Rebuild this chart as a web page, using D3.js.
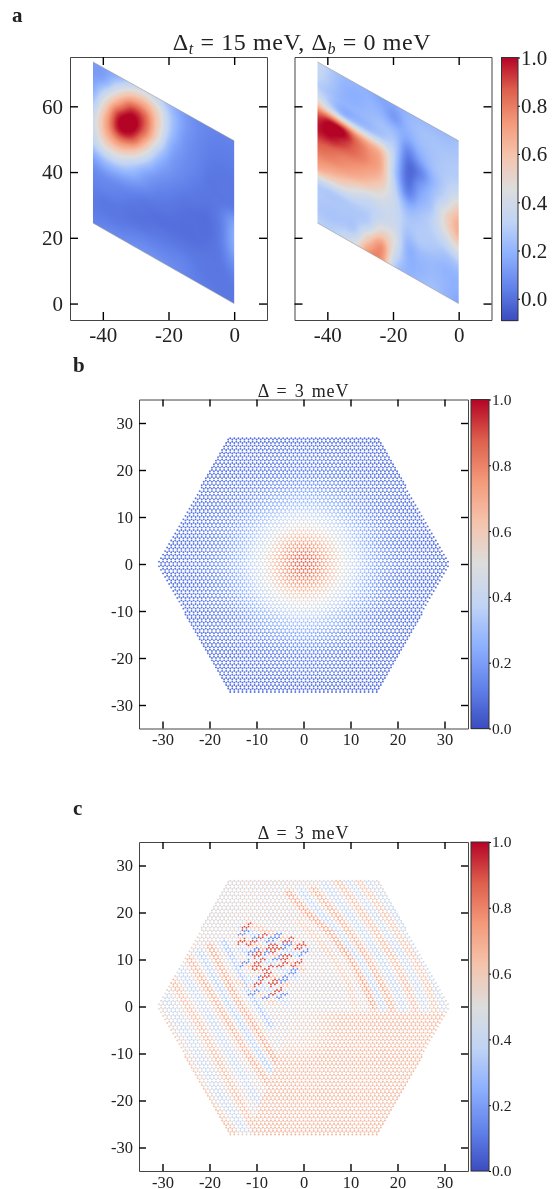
<!DOCTYPE html>
<html><head><meta charset="utf-8">
<script src="https://cdn.jsdelivr.net/npm/d3@7/dist/d3.min.js"></script>
<style>
html,body{margin:0;padding:0;background:#fff;}
#wrap{position:relative;width:553px;height:1189px;overflow:hidden;}
canvas{position:absolute;left:0;top:0;}
svg{position:absolute;left:0;top:0;}
text{font-family:"Liberation Serif","DejaVu Serif",serif;fill:#222;}
</style></head><body><div id="wrap"><canvas id="heat" width="553" height="1189"></canvas><svg id="s" width="553" height="1189"></svg></div>
<script>
// ---------- data ----------
const coolwarmStops=[0,.125,.25,.375,.5,.625,.75,.875,1];
const coolwarmColors=["#3b4cc0","#6282ea","#8db0fe","#c0d4f5","#dddddd","#f5c4ad","#f49a7b","#de604d","#b40426"];
const ticksA_X=[-40,-20,0], ticksA_Y=[0,20,40,60];
const ticksHex=[-30,-20,-10,0,10,20,30];
const ticksBarA=[0,.2,.4,.6,.8,1], ticksBarHex=[0,.2,.4,.6,.8,1];
// parallelogram corners of panel a (x,y)
const cellCorners=[[0,0],[0,49.5],[-43,73.5],[-43,24.5]];
// mesh values: rows from the top edge of the cell to the bottom edge, columns from x=-43 to x=0
const meshLeft=[
[.12,.13,.18,.31,.39,.34,.22,.13,.08,.06,.05,.05],
[.12,.18,.40,.60,.65,.52,.28,.14,.08,.05,.04,.04],
[.17,.39,.68,.92,.86,.57,.27,.12,.07,.04,.03,.03],
[.27,.58,.95,1.05,.85,.50,.20,.10,.06,.03,.02,.02],
[.38,.68,.97,.93,.64,.32,.14,.08,.05,.02,.02,.02],
[.39,.62,.72,.61,.38,.18,.10,.06,.03,.02,.02,.03],
[.33,.44,.44,.32,.18,.10,.06,.03,.02,.01,.04,.13],
[.17,.22,.21,.16,.10,.05,.03,.01,.00,.00,.04,.17],
[.08,.09,.08,.06,.03,.02,.01,.00,.00,.00,.04,.15],
[.05,.05,.04,.02,.01,.00,.00,.00,.00,.01,.03,.09],
[.03,.02,.02,.01,.01,.02,.02,.02,.02,.02,.02,.04],
[.03,.03,.03,.04,.05,.05,.05,.05,.03,.02,.02,.02],
[.05,.06,.07,.08,.09,.09,.08,.06,.04,.03,.02,.02]];
const meshRight=[
[.36,.28,.22,.20,.18,.15,.16,.20,.22,.22,.22,.24],
[.34,.27,.20,.18,.20,.18,.12,.20,.24,.25,.25,.26],
[.30,.25,.20,.20,.22,.24,.22,.16,.22,.25,.27,.28],
[.50,.36,.24,.24,.25,.28,.28,.06,.15,.24,.28,.30],
[.88,.98,.96,.78,.68,.60,.30,.00,.05,.20,.30,.38],
[.98,1.0,.93,.84,.76,.66,.28,.00,.12,.24,.36,.55],
[.88,.85,.80,.76,.70,.60,.32,.06,.18,.28,.50,.66],
[.78,.76,.72,.66,.58,.48,.36,.20,.25,.32,.48,.64],
[.66,.60,.54,.45,.38,.38,.36,.27,.28,.30,.36,.46],
[.32,.30,.30,.30,.30,.36,.38,.25,.28,.27,.25,.28],
[.28,.27,.27,.27,.32,.52,.45,.20,.22,.22,.20,.20],
[.27,.26,.27,.30,.56,.74,.40,.20,.20,.22,.20,.18],
[.30,.30,.35,.46,.74,.74,.30,.20,.22,.24,.20,.15]];
// panel b: value against distance from the centre
const profileR=[0,2,4,6,8,10,12,14,17,20,25,32];
const profileV=[.88,.84,.75,.64,.52,.42,.33,.26,.18,.13,.10,.08];
// panel c: hexagon outline of both lattices
const hexOutline=[[31.2,0],[15.7,27.2],[-15.7,27.2],[-31.2,0],[-15.7,-27.4],[15.7,-27.4]];
// panel c: smooth warm area, and tones for the two sublattices
const warmArea=[[-1.5,-1],[33,-1],[17,-29],[-11,-29],[-10.7,-24]];
const warmTones=[.67,.6], paleTones=[.56,.45];
// panel c: the warm area fades out towards the middle of the hexagon
const warmFadeCentre=[-3,-2], warmFadeR=[0,5,11], warmFadeK=[.1,.35,1];
// panel c: stripes seen in the picture (polyline, then its tone and half-width)
const stripes=[
[[[-3.2,24.2],[.7,20],[5.7,15.7],[9.6,10.7],[12.8,5],[14.9,0]],.74,1.2],
[[[2.1,24.9],[7.1,19.3],[11.4,13.6],[14.9,7.9],[17.8,2.2],[18.8,-.5]],.7,1.2],
[[[7.1,27],[11.4,21.4],[15.6,15.7],[19.2,10],[22,4.3],[23.8,-.5]],.66,1.2],
[[[11.4,27],[15.6,22.1],[19.9,15.7],[23.5,10.7],[26.3,5],[28,-.5]],.63,1.2],
[[[-.5,24.5],[3.9,19.6],[8.5,14.6],[12.2,9.3],[15.3,3.6],[16.8,-.3]],.36,1.1],
[[[4.6,26],[9.2,20.3],[13.5,14.6],[17,9],[19.9,3.2],[21.3,-.5]],.38,1.1],
[[[9.2,27],[13.5,21.7],[17.7,15.7],[21.3,10.3],[24.1,4.6],[25.9,-.5]],.4,1.1],
[[[13.5,27],[18,21.5],[22.5,15],[26,9],[28.5,3],[29.5,-.3]],.42,1.1],
[[[-1,18],[3,14.5],[6.5,10],[9.5,5],[11,0]],.62,1],
[[[-28.1,5.8],[-22,-4.2],[-14.2,-19.1],[-10.7,-25.5]],.66,1.2],
[[[-24.2,10],[-18.5,.8],[-12.1,-9.9],[-7.1,-17]],.7,1.2],
[[[-19.9,12.9],[-14.2,1.5],[-9.2,-6.3],[-5.7,-12]],.72,1.2],
[[[-30.6,-2],[-25.6,-10.6],[-20.6,-19.8],[-14.9,-26.9]],.65,1.2],
[[[-26.2,8],[-20.2,-1.7],[-13.2,-14.5],[-9,-21.2]],.38,1.1],
[[[-22,11.5],[-16.3,1.1],[-10.7,-8],[-6.4,-14.5]],.34,1.1],
[[[-29.4,2],[-23.8,-7.4],[-17.4,-19.5],[-12.8,-26]],.4,1.1],
[[[-17,14],[-11.5,3],[-7,-4]],.3,1],
[[[-12.1,17.8],[-6.4,15.3],[-.7,12.8]],.66,1],
[[[-13.5,16.8],[-7.1,13.6],[-.7,10.7]],.34,.9],
[[[-13.5,14.3],[-7.8,11.8],[0,7.9]],.68,.9],
[[[-13.5,12.2],[-7.1,9.3],[-1.4,6.1]],.34,.9],
[[[-13.2,9.4],[-7.5,6.8],[-3.6,4.7]],.68,.9],
[[[-13.5,6.8],[-8.5,4],[-3.6,.8]],.36,.9],
[[[-14.2,5.4],[-10,3.3],[-6.4,.8]],.64,.8]];
// panel c: strongest short dashes in the upper-left cluster (centres)
const hotDashes=[[-12.1,17],[-11.1,13.5],[-13.2,13.8],[-10,8.5],[-9.3,9.6],[-6.8,12.8],[-5.8,12.1],[-8.6,14.9],[-3.6,10.6],[-10,11],[-7.5,8.2],[-4.7,8.9],[-7.8,6.8],[-9.6,5],[-5.7,3.3],[-6.4,5],[-1.4,9.3],[-.7,12.9],[-3.2,14.3]];
const coldDashes=[[-12.8,15.6],[-10.4,14.5],[-6.8,14.5],[-7.5,11.7],[-10.7,11.7],[-12.5,9.2],[-5.8,14.9],[-3.6,13.1],[-5.4,10.3],[-10.7,2.9],[-4.6,2.2],[-7.5,2.2],[-8.5,6.3],[-4.3,5.8],[-2.1,7.5],[0,11.4]];
const hotDashTone=.9, coldDashTone=.14;
const latticeConstant=.866;
// ---------- drawing ----------
const color=d3.scaleLinear().domain(coolwarmStops).range(coolwarmColors).interpolate(d3.interpolateRgb).clamp(true);
const svg=d3.select("#s"), ctx=document.getElementById("heat").getContext("2d");

function axes(g,x,y,xt,yt,len,fs,showY,padX,padY){
  const [x0,x1]=x.range(),[y1,y0]=y.range();
  const fmt=d=>String(d);
  const mk=(sel,ax,tr)=>{const a=sel.append("g").attr("transform",tr).call(ax);
    a.select(".domain").attr("stroke","#444").attr("stroke-width",1);
    a.selectAll(".tick line").attr("stroke","#000").attr("stroke-width",1.4);
    a.selectAll("text").attr("font-size",fs).attr("fill","#222").style("font-family",'"Liberation Serif",serif');
    return a;};
  mk(g,d3.axisBottom(x).tickValues(xt).tickFormat(fmt).tickSizeInner(-len).tickSizeOuter(0).tickPadding(padX),`translate(0,${y1})`);
  mk(g,d3.axisTop(x).tickValues(xt).tickFormat("").tickSizeInner(-len).tickSizeOuter(0),`translate(0,${y0})`);
  mk(g,d3.axisLeft(y).tickValues(yt).tickFormat(showY?fmt:"").tickSizeInner(-len).tickSizeOuter(0).tickPadding(padY),`translate(${x0},0)`);
  mk(g,d3.axisRight(y).tickValues(yt).tickFormat("").tickSizeInner(-len).tickSizeOuter(0),`translate(${x1},0)`);
}
function colorbar(x0,x1,s,ticks,fs,pad){
  const g=svg.append("g");
  const [yb,yt]=s.range();
  for(let py=Math.floor(yt);py<yb;py++){
    g.append("rect").attr("x",x0).attr("y",py).attr("width",x1-x0).attr("height",1.2).attr("fill",color((s.invert(py+.5)-s.domain()[0])/(s.domain()[1]-s.domain()[0])));
  }
  g.append("rect").attr("x",x0).attr("y",yt).attr("width",x1-x0).attr("height",yb-yt).attr("fill","none").attr("stroke","#333").attr("stroke-width",1);
  const a=g.append("g").attr("transform",`translate(${x1},0)`).call(d3.axisRight(s).tickValues(ticks).tickFormat(d3.format(".1f")).tickSizeInner(2).tickSizeOuter(0).tickPadding(pad));
  a.select(".domain").remove();
  a.selectAll("text").attr("font-size",fs).attr("fill","#222").style("font-family",'"Liberation Serif",serif');
}
function catmull(p0,p1,p2,p3,t){return .5*(2*p1+(p2-p0)*t+(2*p0-5*p1+4*p2-p3)*t*t+(3*p1-p0-3*p2+p3)*t*t*t);}
function meshValue(mesh,u,v){ // u,v in 0..1; Gouraud-like smoothing of the mesh
  const nr=mesh.length,nc=mesh[0].length,fx=u*(nc-1),fy=v*(nr-1);
  const ix=Math.min(nc-2,Math.floor(fx)),iy=Math.min(nr-2,Math.floor(fy));
  const at=(r,c)=>mesh[Math.max(0,Math.min(nr-1,r))][Math.max(0,Math.min(nc-1,c))];
  const rows=[-1,0,1,2].map(d=>catmull(at(iy+d,ix-1),at(iy+d,ix),at(iy+d,ix+1),at(iy+d,ix+2),fx-ix));
  return catmull(rows[0],rows[1],rows[2],rows[3],fy-iy);
}
function heat(mesh,x,y,barNorm){
  const pts=cellCorners.map(d=>[x(d[0]),y(d[1])]);
  ctx.save();ctx.beginPath();pts.forEach((p,i)=>i?ctx.lineTo(p[0],p[1]):ctx.moveTo(p[0],p[1]));ctx.closePath();ctx.clip();
  const [ymin,ymax]=d3.extent(pts,d=>d[1]);
  for(let px=Math.floor(x(-43))-1;px<=Math.ceil(x(0))+1;px++){
    for(let py=Math.floor(ymin)-1;py<=Math.ceil(ymax)+1;py++){
      const dx=x.invert(px+.5),dy=y.invert(py+.5);
      const u=Math.max(0,Math.min(1,(dx+43)/43));
      const vv=(dy-(-dx)*24.5/43)/49.5; // 0 bottom, 1 top
      const val=meshValue(mesh,u,Math.max(0,Math.min(1,1-vv)));
      ctx.fillStyle=color(barNorm(val));ctx.fillRect(px,py,1,1);
    }
  }
  ctx.restore();
  svg.append("path").attr("d",d3.line()([pts[1],pts[2]])).attr("stroke","#999").attr("stroke-width",.6).attr("fill","none");
  svg.append("path").attr("d",d3.line()([pts[0],pts[3]])).attr("stroke","#999").attr("stroke-width",.6).attr("fill","none");
}
function lattice(){
  const a=latticeConstant,h=a*Math.sqrt(3)/2,out=[];
  for(let j=-40;j<=40;j++)for(let i=-60;i<=60;i++){
    const X=i*a+j*a/2,Y=j*h;
    [0,1].forEach(s=>{const px=X,py=Y+s*a/Math.sqrt(3)-a/(2*Math.sqrt(3));
      if(d3.polygonContains(hexOutline,[px,py]))out.push({x:px,y:py,s});});
  }
  return out;
}
function segDist(p,a,b){const vx=b[0]-a[0],vy=b[1]-a[1];let t=((p[0]-a[0])*vx+(p[1]-a[1])*vy)/(vx*vx+vy*vy);t=Math.max(0,Math.min(1,t));return Math.hypot(p[0]-a[0]-t*vx,p[1]-a[1]-t*vy);}
const warmFade=d3.scaleLinear().domain(warmFadeR).range(warmFadeK).clamp(true);
const nearDash=(p,c)=>segDist(p,[c[0]-.75,c[1]-.42],[c[0]+.75,c[1]+.42])<.5;
function stripeValue(d){
  const p=[d.x,d.y];
  if(d3.polygonContains(warmArea,p)){
    const k=warmFade(Math.hypot(d.x-warmFadeCentre[0],d.y-warmFadeCentre[1]));
    return paleTones[d.s]+(warmTones[d.s]-paleTones[d.s])*k;
  }
  if(hotDashes.some(c=>nearDash(p,c)))return hotDashTone;
  if(coldDashes.some(c=>nearDash(p,c)))return coldDashTone;
  let v=paleTones[d.s],best=1e9;
  stripes.forEach(([line,tone,w])=>{
    for(let i=0;i<line.length-1;i++){const k=segDist(p,line[i],line[i+1])/w;
      if(k<1&&k<best){best=k;v=paleTones[d.s]+(tone-paleTones[d.s])*(1-k*k);}}
  });
  return v;
}
const atoms=lattice();
const radial=d3.scaleLinear().domain(profileR).range(profileV).clamp(true);

// panel a
const aTop=57,aBot=320;
const yA=d3.scaleLinear().domain([-5,75]).range([aBot,aTop]);
const xA1=d3.scaleLinear().domain([-50,10]).range([70,267]);
const xA2=d3.scaleLinear().domain([-50,10]).range([294.5,491.5]);
const barA=d3.scaleLinear().domain([-.09,1]).range([320.5,57.5]);
const normA=v=>(v+.09)/1.09;
heat(meshLeft,xA1,yA,normA);heat(meshRight,xA2,yA,normA);
axes(svg.append("g"),xA1,yA,ticksA_X,ticksA_Y,8,21,true,7,7);
axes(svg.append("g"),xA2,yA,ticksA_X,ticksA_Y,8,21,false,7,7);
colorbar(501.5,518,barA,ticksBarA,21,1);

// panels b, c
function hexPanel(top,valueOf){
  const x=d3.scaleLinear().domain([-35,35]).range([139,468]);
  const y=d3.scaleLinear().domain([-35,35]).range([top+329,top]);
  svg.append("g").selectAll("circle").data(atoms).join("circle")
    .attr("cx",d=>x(d.x)).attr("cy",d=>y(d.y)).attr("r",.95).attr("fill",d=>color(valueOf(d)));
  axes(svg.append("g"),x,y,ticksHex,ticksHex,7,16.5,true,5,6);
  colorbar(471,489,d3.scaleLinear().domain([0,1]).range([top+329,top]),ticksBarHex,15.5,1);
  svg.append("text").attr("x",303.5).attr("y",top-3).attr("text-anchor","middle").attr("font-size",18)
    .attr("letter-spacing",.8).attr("word-spacing",2).text("\u0394 = 3 meV");
}
hexPanel(399.5,d=>radial(Math.hypot(d.x,d.y)));
hexPanel(842,stripeValue);

// title and panel letters
const tt=svg.append("text").attr("x",302).attr("y",50).attr("text-anchor","middle").attr("font-size",24).attr("letter-spacing",.6);
tt.append("tspan").text("\u0394");
tt.append("tspan").text("t").attr("font-style","italic").attr("font-size",16).attr("dy",4);
tt.append("tspan").text(" = 15 meV, \u0394").attr("dy",-4);
tt.append("tspan").text("b").attr("font-style","italic").attr("font-size",16).attr("dy",4);
tt.append("tspan").text(" = 0 meV").attr("dy",-4);
[["a",12,22],["b",73,372],["c",73,815]].forEach(([s,x,y])=>svg.append("text").attr("x",x).attr("y",y).attr("font-size",21).attr("font-weight","bold").attr("fill","#000").text(s));
</script></body></html>
